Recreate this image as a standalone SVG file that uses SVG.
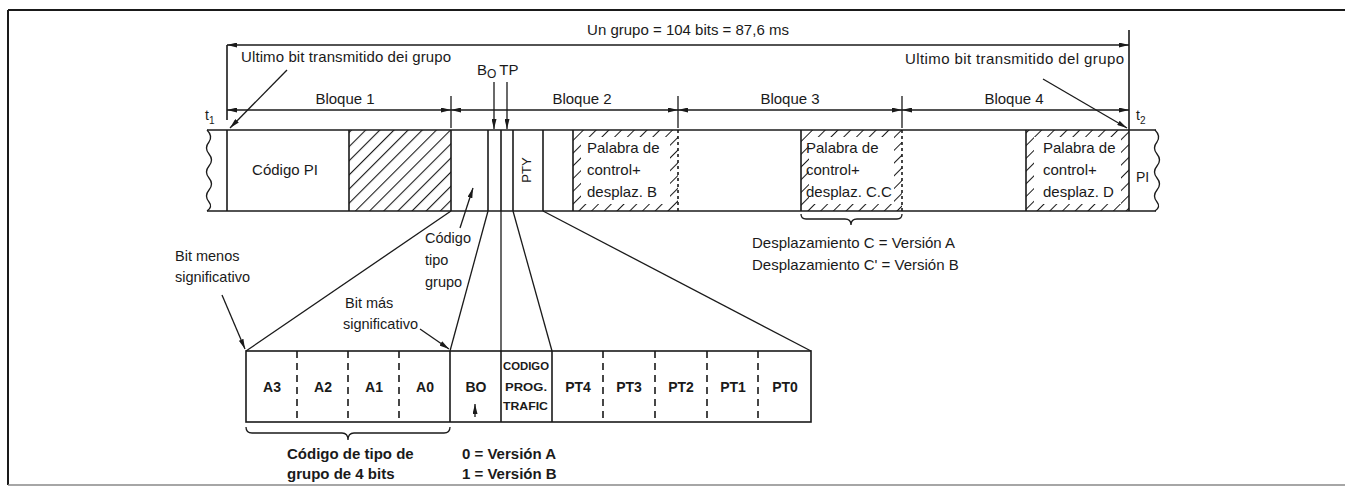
<svg xmlns="http://www.w3.org/2000/svg" width="1345" height="488" viewBox="0 0 1345 488">
<style>
text{font-family:"Liberation Sans",Arial,sans-serif;font-size:15px;fill:#1a1a1a}
.s{font-size:14.5px}
.b{font-size:14px;font-weight:bold;text-anchor:middle}
.bb{font-size:15px;font-weight:bold}
.sm{font-size:11.5px;font-weight:bold}
.m{text-anchor:middle}
.ln{stroke:#1a1a1a;stroke-width:1.6;fill:none}
.th{stroke:#1a1a1a;stroke-width:1.3;fill:none}
.ar{stroke:#1a1a1a;stroke-width:1.3;fill:none;marker-end:url(#ah)}
.dim{stroke:#1a1a1a;stroke-width:1.3;fill:none;marker-start:url(#ah);marker-end:url(#ah)}
.ds{stroke:#1a1a1a;stroke-width:1.6;fill:none;stroke-dasharray:7,5}
.dd{stroke:#1a1a1a;stroke-width:1.6;fill:none;stroke-dasharray:3,3}
</style>
<defs>
<marker id="ah" viewBox="0 0 10 5" refX="10" refY="2.5" markerWidth="10" markerHeight="5" markerUnits="userSpaceOnUse" orient="auto-start-reverse"><path d="M0,0 L10,2.5 L0,5 z" fill="#1a1a1a"/></marker>
<pattern id="hatch" width="10" height="10" patternUnits="userSpaceOnUse" patternTransform="rotate(45)"><line x1="0" y1="0" x2="0" y2="10" stroke="#1a1a1a" stroke-width="2.2"/></pattern>
<pattern id="hatchS" width="9" height="9" patternUnits="userSpaceOnUse" patternTransform="rotate(45)"><line x1="0" y1="0" x2="0" y2="9" stroke="#1a1a1a" stroke-width="2"/></pattern>
</defs>
<rect width="1345" height="488" fill="#fff"/>

<g id="frame">
<line x1="8" y1="10" x2="1345" y2="10" stroke="#1a1a1a" stroke-width="2"/>
<line x1="8" y1="10" x2="8" y2="485" stroke="#1a1a1a" stroke-width="2"/>
<line x1="8" y1="485" x2="1345" y2="485" stroke="#888" stroke-width="1.5"/>
</g>

<g id="title"><text x="688" y="35" class="m">Un grupo = 104 bits = 87,6 ms</text></g>

<g id="bar">
<line class="ln" x1="207" y1="130" x2="1156" y2="130"/>
<line class="ln" x1="207" y1="211" x2="1156" y2="211"/>
<path class="th" d="M207,130 Q213,136 209,142 Q204,148 209,154 Q214,160 209,166 Q204,172 209,178 Q214,184 209,190 Q204,196 209,202 Q213,207 207,211"/>
<path class="th" d="M1155,130 Q1161,136 1157,142 Q1152,148 1157,154 Q1162,160 1157,166 Q1152,172 1157,178 Q1162,184 1157,190 Q1152,196 1157,202 Q1161,207 1155,211"/>
</g>

<g id="codigo-pi">
<line class="ln" x1="227" y1="130" x2="227" y2="211"/>
<text x="285" y="175" class="m">Código PI</text>
</g>

<g id="bloque1-hatched">
<rect x="349" y="130" width="102" height="81" fill="url(#hatch)"/>
<line class="ln" x1="349" y1="130" x2="349" y2="211"/>
<line class="ln" x1="451" y1="130" x2="451" y2="211"/>
</g>

<g id="bloque2-bits">
<line class="ln" x1="488" y1="130" x2="488" y2="211"/>
<line class="ln" x1="501" y1="130" x2="501" y2="211"/>
<line class="ln" x1="513" y1="130" x2="513" y2="211"/>
<line class="ln" x1="543" y1="130" x2="543" y2="211"/>
<text transform="translate(531,170) rotate(-90)" style="font-size:13px" text-anchor="middle">PTY</text>
</g>

<g id="palabra-b">
<path d="M573,130 H678 V211 H573 Z M581,137 V204 H670 V137 Z" fill="url(#hatchS)" fill-rule="evenodd"/>
<line class="ln" x1="573" y1="130" x2="573" y2="211"/>
<line class="dd" x1="678" y1="130" x2="678" y2="211"/>
<text x="587" y="153">Palabra de</text>
<text x="587" y="175">control+</text>
<text x="587" y="197">desplaz. B</text>
</g>

<g id="palabra-c">
<path d="M801,130 H902 V211 H801 Z M809,137 V204 H894 V137 Z" fill="url(#hatchS)" fill-rule="evenodd"/>
<line class="ln" x1="801" y1="130" x2="801" y2="211"/>
<line class="dd" x1="902" y1="130" x2="902" y2="211"/>
<text x="806" y="153">Palabra de</text>
<text x="806" y="175">control+</text>
<text x="806" y="197">desplaz. C.C</text>
<path class="th" d="M801,214 q0,5 5,5 L845,219 q6,0 6,6 q0,-6 6,-6 L897,219 q5,0 5,-5"/>
<text x="752" y="248">Desplazamiento C = Versión A</text>
<text x="752" y="270">Desplazamiento C' = Versión B</text>
</g>

<g id="palabra-d">
<path d="M1026,130 H1129 V211 H1026 Z M1034,137 V204 H1121 V137 Z" fill="url(#hatchS)" fill-rule="evenodd"/>
<line class="ln" x1="1026" y1="130" x2="1026" y2="211"/>
<line class="ln" x1="1129" y1="30" x2="1129" y2="211"/>
<text x="1043" y="153">Palabra de</text>
<text x="1043" y="175">control+</text>
<text x="1043" y="197">desplaz. D</text>
</g>

<g id="pi-next"><text x="1136" y="182" style="font-size:14px">PI</text></g>

<g id="dimensions">
<line class="ln" x1="227" y1="45" x2="227" y2="120"/>
<line class="th" x1="451" y1="96" x2="451" y2="128"/>
<line class="th" x1="678" y1="96" x2="678" y2="128"/>
<line class="th" x1="902" y1="96" x2="902" y2="128"/>
<line class="dim" x1="227" y1="45" x2="1129" y2="45"/>
<line class="dim" x1="227" y1="110" x2="451" y2="110"/>
<line class="dim" x1="451" y1="110" x2="678" y2="110"/>
<line class="dim" x1="678" y1="110" x2="902" y2="110"/>
<line class="dim" x1="902" y1="110" x2="1129" y2="110"/>
<text x="345" y="104" class="m">Bloque 1</text>
<text x="582" y="104" class="m">Bloque 2</text>
<text x="790" y="104" class="m">Bloque 3</text>
<text x="1014" y="104" class="m">Bloque 4</text>
<text x="205" y="120" style="font-size:14px">t<tspan dy="4" style="font-size:10px">1</tspan></text>
<text x="1136" y="120" style="font-size:14px">t<tspan dy="4" style="font-size:10px">2</tspan></text>
<text x="241" y="62" textLength="210">Ultimo bit transmitido dei grupo</text>
<text x="905" y="64" textLength="219">Ultimo bit transmitido del grupo</text>
<text x="477" y="75" style="font-size:15px">B<tspan dy="3" style="font-size:12px">O</tspan><tspan dy="-3" dx="3">TP</tspan></text>
</g>

<g id="table">
<rect class="ln" x="246" y="351" width="565" height="71"/>
<line class="ds" x1="297" y1="351" x2="297" y2="422"/>
<line class="ds" x1="348" y1="351" x2="348" y2="422"/>
<line class="ds" x1="399" y1="351" x2="399" y2="422"/>
<line class="ln" x1="450" y1="351" x2="450" y2="422"/>
<line class="ln" x1="501" y1="351" x2="501" y2="422"/>
<line class="ln" x1="552" y1="351" x2="552" y2="422"/>
<line class="ds" x1="603" y1="351" x2="603" y2="422"/>
<line class="ds" x1="655" y1="351" x2="655" y2="422"/>
<line class="ds" x1="707" y1="351" x2="707" y2="422"/>
<line class="ds" x1="758" y1="351" x2="758" y2="422"/>
<text x="272" y="392" class="b">A3</text>
<text x="323" y="392" class="b">A2</text>
<text x="374" y="392" class="b">A1</text>
<text x="425" y="392" class="b">A0</text>
<text x="476" y="392" class="b">BO</text>
<text x="503" y="370" class="sm" textLength="46" lengthAdjust="spacingAndGlyphs">CODIGO</text>
<text x="505" y="391" class="sm" textLength="42" lengthAdjust="spacingAndGlyphs">PROG.</text>
<text x="503" y="410" class="sm" textLength="45" lengthAdjust="spacingAndGlyphs">TRAFIC</text>
<text x="578" y="392" class="b">PT4</text>
<text x="629" y="392" class="b">PT3</text>
<text x="681" y="392" class="b">PT2</text>
<text x="733" y="392" class="b">PT1</text>
<text x="785" y="392" class="b">PT0</text>
<path class="th" d="M246,427 q0,6 6,6 L342,433 q6,0 6,7 q0,-7 6,-7 L444,433 q6,0 6,-6"/>
<text x="287" y="459" class="bb">Código de tipo de</text>
<text x="287" y="479" class="bb">grupo de 4 bits</text>
<text x="462" y="459" class="bb">0 = Versión A</text>
<text x="462" y="479" class="bb">1 = Versión B</text>
</g>

<g id="labels">
<text x="175" y="261" class="s">Bit menos</text>
<text x="175" y="282" class="s">significativo</text>
<text x="345" y="308" class="s">Bit más</text>
<text x="343" y="329" class="s">significativo</text>
<text x="425" y="243" class="s">Código</text>
<text x="425" y="265" class="s">tipo</text>
<text x="425" y="287" class="s">grupo</text>
</g>

<g id="connectors">
<line class="th" x1="451" y1="211" x2="246" y2="351"/>
<line class="th" x1="488" y1="211" x2="450" y2="351"/>
<line class="th" x1="501" y1="211" x2="501" y2="351"/>
<line class="th" x1="513" y1="211" x2="552" y2="351"/>
<line class="th" x1="543" y1="211" x2="811" y2="351"/>
<line class="ar" x1="287" y1="70" x2="230" y2="128"/>
<line class="ar" x1="1043" y1="79" x2="1127" y2="128"/>
<line class="ar" x1="494" y1="82" x2="494" y2="129"/>
<line class="ar" x1="507" y1="82" x2="507" y2="129"/>
<line class="ar" x1="460" y1="228" x2="473" y2="188"/>
<line class="ar" x1="222" y1="295" x2="245" y2="349"/>
<line class="ar" x1="420" y1="329" x2="449" y2="349"/>
<line class="ar" x1="475" y1="417" x2="475" y2="404"/>
</g>
</svg>
